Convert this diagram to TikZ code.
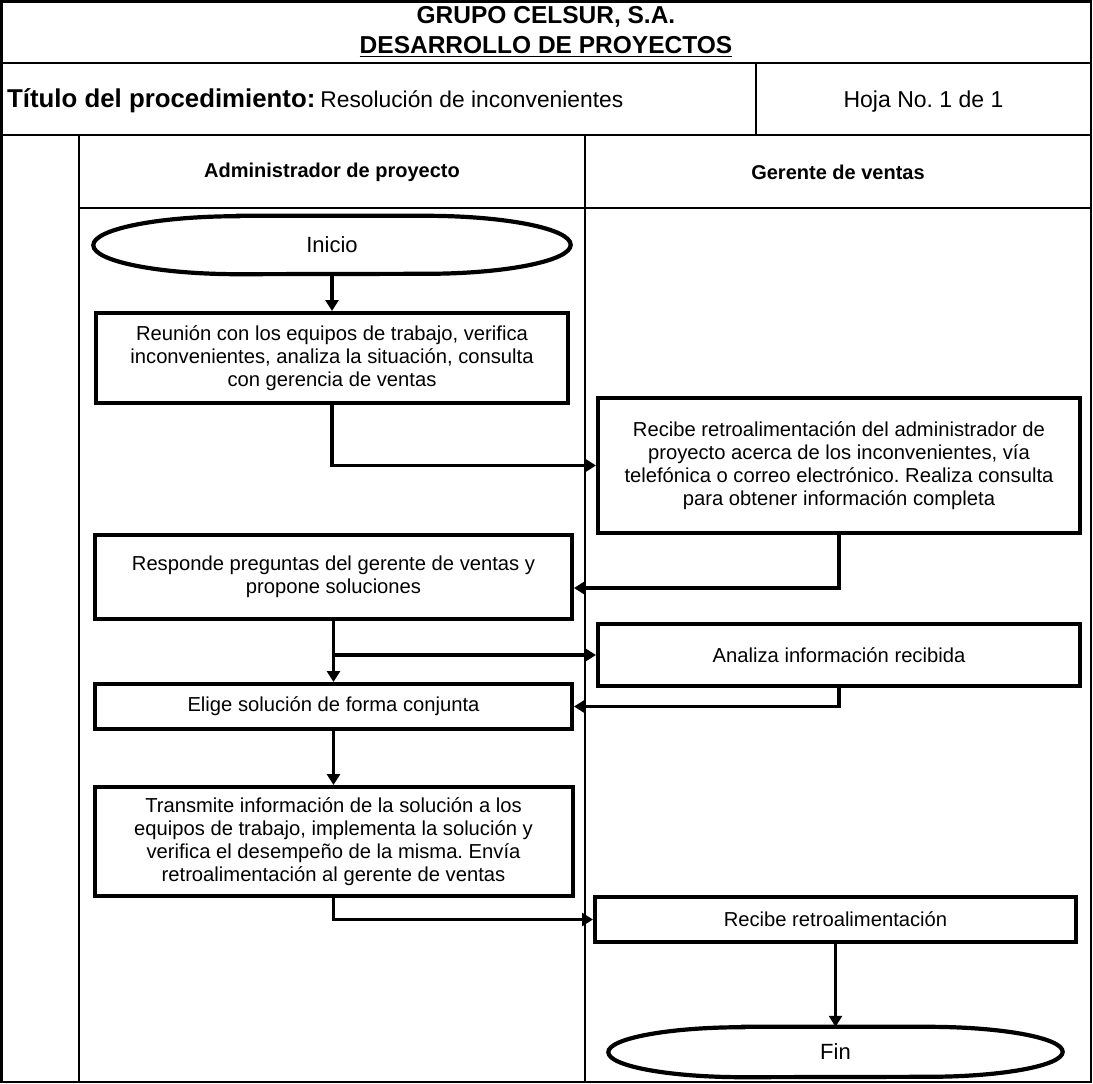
\documentclass[tikz,border=0pt]{standalone}
\usepackage{fontspec}
\setmainfont{Liberation Sans}
\usetikzlibrary{arrows.meta,calc}
\newcommand\fsz[2]{\fontsize{#1}{#2}\selectfont}
\frenchspacing
\begin{document}
\frenchspacing
\begin{tikzpicture}[x=1pt,y=-1pt,
  frame/.style={line width=2.2pt},
  box/.style={draw, line width=4pt, rectangle, inner sep=0pt, align=center, font=\fsz{20.2}{22.8}},
  termtxt/.style={inner sep=0pt, font=\fsz{22}{26}},
  term/.style={line width=4.2pt},
  conn/.style={line width=3.2pt, -{Triangle[length=11pt,width=13pt]}},
  lane/.style={inner sep=0pt, font=\fsz{20}{24}\bfseries}
]
\useasboundingbox (0,0) rectangle (1093,1084);

% frame
\draw[frame] (1.5,1.5) rectangle (1091,1082);
\draw[frame] (1.5,63) -- (1091,63);
\draw[frame] (1.5,135) -- (1091,135);
\draw[frame] (756,63) -- (756,135);
\draw[frame] (79,208) -- (1091,208);
\draw[frame] (79,135) -- (79,1082);
\draw[frame] (585,135) -- (585,1082);

% header
\node[anchor=base, inner sep=0pt, font=\fsz{24.5}{29}\bfseries] (h1) at (546,23.5) {GRUPO CELSUR, S.A.};
\node[anchor=base, inner sep=0pt, font=\fsz{24.5}{29}\bfseries] (h2) at (546,53.5) {DESARROLLO DE PROYECTOS};
\draw[line width=1.9pt] ([yshift=-3pt]h2.base west) -- ([yshift=-3pt]h2.base east);

\node[anchor=base west, inner sep=0pt] (t1) at (7,107.5) {\fsz{25.8}{30}\bfseries Título del procedimiento:\hspace{5pt}\fsz{22.8}{28}\mdseries Resolución de inconvenientes};
\node[anchor=base, inner sep=0pt, font=\fsz{23}{28}] (hoja) at (923.5,107.5) {Hoja No. 1 de 1};

\node[lane] (l1) at (332,172) {Administrador de proyecto};
\node[lane] (l2) at (838,172) {Gerente de ventas};

% terminators
\node[termtxt, minimum width=477pt, minimum height=58pt] (ini) at (332,245) {Inicio};
\draw[term] ($(ini.north west)+(145,0)$) -- ($(ini.north east)+(-145,0)$)
  arc[start angle=90, end angle=-90, x radius=145pt, y radius=29pt]
  -- ($(ini.south west)+(145,0)$)
  arc[start angle=270, end angle=90, x radius=145pt, y radius=29pt] -- cycle;

\node[termtxt, minimum width=454pt, minimum height=50pt] (fin) at (835.5,1052) {Fin};
\draw[term] ($(fin.north west)+(135,0)$) -- ($(fin.north east)+(-135,0)$)
  arc[start angle=90, end angle=-90, x radius=135pt, y radius=25pt]
  -- ($(fin.south west)+(135,0)$)
  arc[start angle=270, end angle=90, x radius=135pt, y radius=25pt] -- cycle;

% process boxes
\node[box, minimum width=472pt, minimum height=90pt] (b1) at (332,358)
  {Reunión con los equipos de trabajo, verifica\\inconvenientes, analiza la situación, consulta\\con gerencia de ventas};
\node[box, minimum width=482pt, minimum height=135pt] (b2) at (839,465.5)
  {Recibe retroalimentación del administrador de\\proyecto acerca de los inconvenientes, vía\\telefónica o correo electrónico. Realiza consulta\\para obtener información completa};
\node[box, minimum width=477pt, minimum height=84pt] (b3) at (333.5,577)
  {Responde preguntas del gerente de ventas y\\propone soluciones};
\node[box, minimum width=482pt, minimum height=62pt] (b5) at (839,655)
  {Analiza información recibida};
\node[box, minimum width=477pt, minimum height=45pt] (b4) at (333.5,706.5)
  {Elige solución de forma conjunta};
\node[box, minimum width=478pt, minimum height=109pt] (b6) at (333.5,841.5)
  {Transmite información de la solución a los\\equipos de trabajo, implementa la solución y\\verifica el desempeño de la misma. Envía\\retroalimentación al gerente de ventas};
\node[box, minimum width=481pt, minimum height=45pt] (b7) at (835.5,919.5)
  {Recibe retroalimentación};

% connectors
\draw[conn] (ini.south) -- (b1.north);
\draw[conn] (b1.south) |- (b2.west);
\draw[conn] (b2.south) |- ($(b3.east)+(0,11)$);
\draw[conn] (b3.south) -- (b4.north);
\draw[conn] (b3.south |- b5.west) -- (b5.west);
\draw[conn] (b5.south) |- (b4.east);
\draw[conn] (b4.south) -- (b6.north);
\draw[conn] (b6.south) |- (b7.west);
\draw[conn] (b7.south) -- (fin.north);
\end{tikzpicture}
\end{document}
